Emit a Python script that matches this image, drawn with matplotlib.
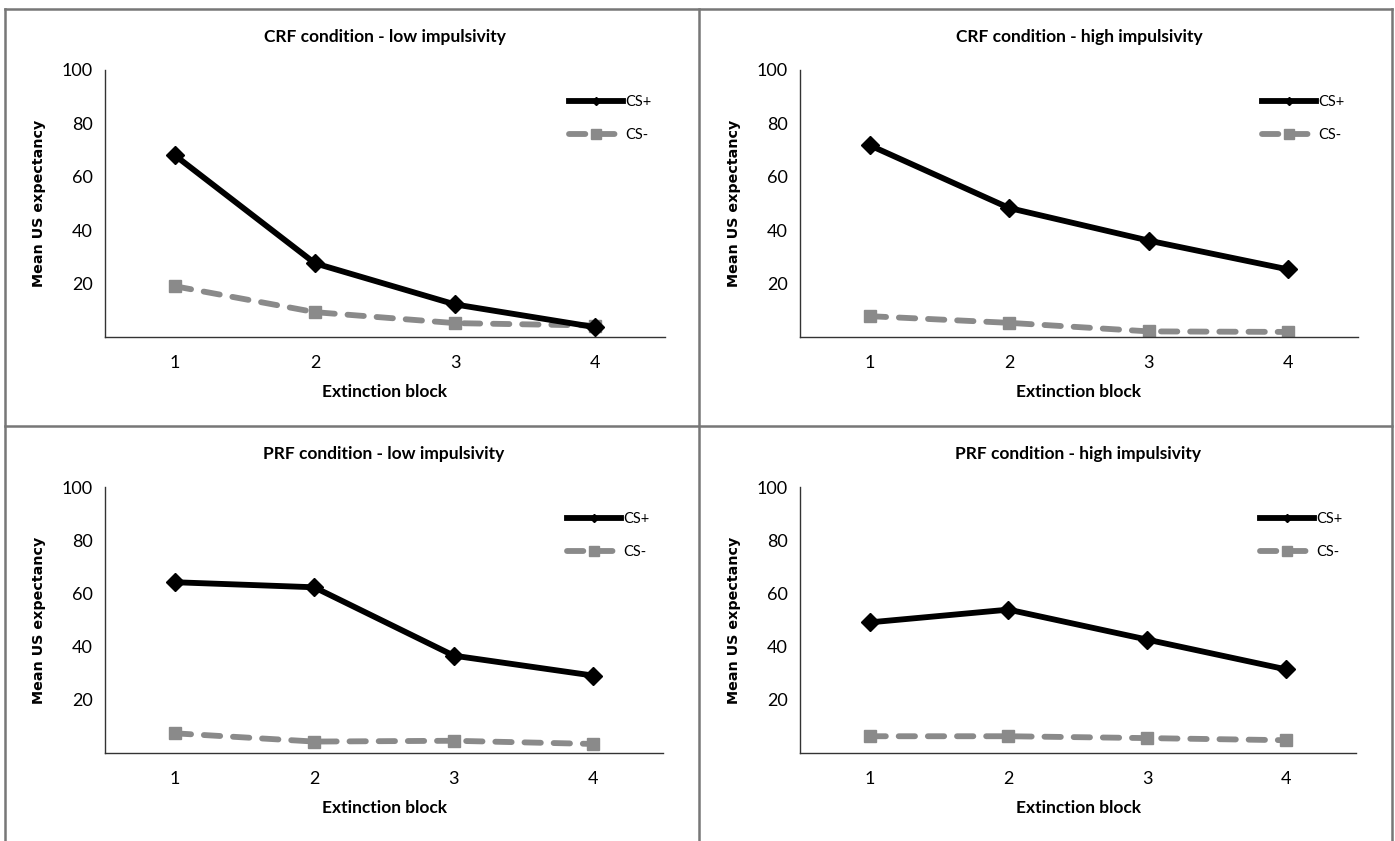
import matplotlib.pyplot as plt
from matplotlib.lines import Line2D

# 4パネルの値
blocks = [1, 2, 3, 4]
titles = ['CRF condition - low impulsivity', 'CRF condition - high impulsivity',
          'PRF condition - low impulsivity', 'PRF condition - high impulsivity']
cs_plus = [[68.0, 27.6, 12.2, 3.7],
           [71.8, 48.3, 36.1, 25.3],
           [64.2, 62.3, 36.6, 29.1],
           [49.1, 53.9, 42.6, 31.4]]
cs_minus = [[19.0, 9.3, 5.2, 4.3],
            [7.8, 5.3, 2.1, 1.9],
            [7.4, 4.3, 4.6, 3.4],
            [6.3, 6.3, 5.6, 4.8]]
yticks = [20, 40, 60, 80, 100]

W, H = 1395, 841
fig = plt.figure(figsize=(W / 100, H / 100), dpi=100)

# 軸の位置 (px): left, right, top, bottom
boxes = [(105, 665, 70, 337), (800, 1358, 70, 337),
         (105, 663, 487, 753), (800, 1356, 487, 753)]

gray = '#8a8a8a'
for i, (l, r, t, b) in enumerate(boxes):
    ax = fig.add_axes([l / W, 1 - b / H, (r - l) / W, (b - t) / H])
    ax.plot(blocks, cs_plus[i], color='black', lw=4.2, marker='D', ms=9,
            label='CS+', zorder=3)
    ax.plot(blocks, cs_minus[i], color=gray, lw=4.2, ls=(0, (2.8, 2.2)),
            dash_capstyle='round', marker='s', ms=9, label='CS-', zorder=2)
    ax.set_xlim(0.5, 4.5)
    ax.set_ylim(0, 100)
    ax.set_xticks(blocks)
    ax.set_yticks(yticks)
    ax.tick_params(length=0, labelsize=13, pad=13)
    ax.tick_params(axis='y', pad=9)
    for lab in ax.get_xticklabels() + ax.get_yticklabels():
        lab.set_family('Lato')
    for s in ['top', 'right']:
        ax.spines[s].set_visible(False)
    for s in ['left', 'bottom']:
        ax.spines[s].set_color('#333333')
        ax.spines[s].set_linewidth(1.0)
    ax.set_xlabel('Extinction block', family='Lato', fontweight='bold',
                  fontsize=12.5, labelpad=9)
    ax.set_ylabel('Mean US expectancy', family='DejaVu Sans', fontweight='bold',
                  fontsize=10.3, labelpad=11)
    ax.set_title(titles[i], family='Lato', fontweight='bold', fontsize=12.5, pad=20)
    leg = ax.legend(loc='upper right', bbox_to_anchor=(1.0, 0.955), frameon=False,
                    fontsize=10.5, handlelength=3.7, labelspacing=1.3,
                    handletextpad=0.2, markerscale=0.4)
    # CS- の凡例マーカーは少し大きめ
    leg.legend_handles[1].set_markersize(6.5)
    for txt in leg.get_texts():
        txt.set_family('Lato')

# パネルの枠線
def hline(y, x0, x1):
    fig.add_artist(Line2D([x0 / W, x1 / W], [1 - y / H, 1 - y / H], color='#777777', lw=1.8))

def vline(x, y0, y1):
    fig.add_artist(Line2D([x / W, x / W], [1 - y0 / H, 1 - y1 / H], color='#777777', lw=1.8))

hline(8.5, 5, 1392)
hline(426, 5, 1392)
vline(5, 8.5, 841)
vline(699, 8.5, 841)
vline(1392, 8.5, 841)

fig.savefig('out.png', dpi=100)
